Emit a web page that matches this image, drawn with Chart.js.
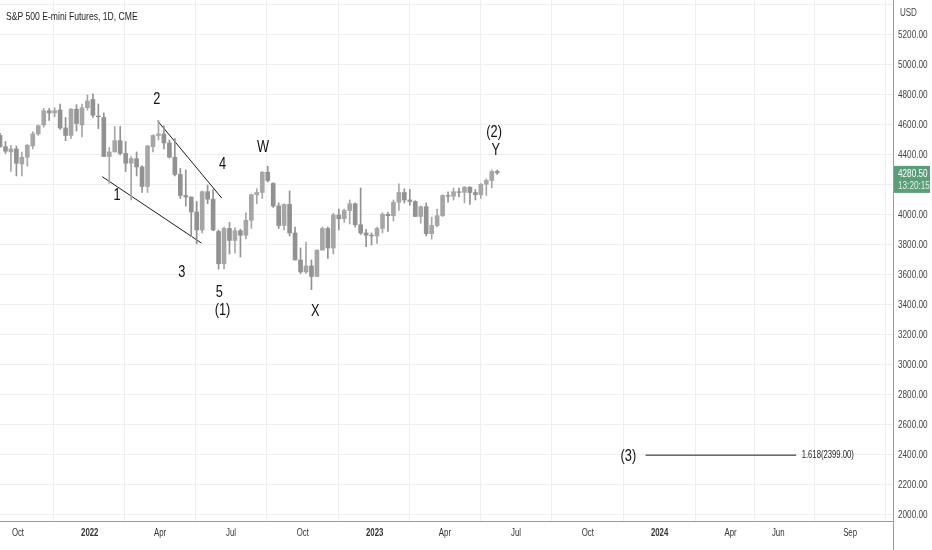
<!DOCTYPE html>
<html>
<head>
<meta charset="utf-8">
<script src="https://cdn.jsdelivr.net/npm/chart.js@4"></script>
<style>
  body { margin: 0; background: #fff; }
  canvas { display: block; }
</style>
</head>
<body>
<canvas id="es_chart" width="932" height="550"></canvas>
<script>
// weekly candles, week starting monday
const weeks = [
  '2021-09-06','2021-09-13','2021-09-20','2021-09-27','2021-10-04','2021-10-11','2021-10-18','2021-10-25',
  '2021-11-01','2021-11-08','2021-11-15','2021-11-22','2021-11-29','2021-12-06','2021-12-13','2021-12-20','2021-12-27',
  '2022-01-03','2022-01-10','2022-01-17','2022-01-24','2022-01-31','2022-02-07','2022-02-14','2022-02-21','2022-02-28',
  '2022-03-07','2022-03-14','2022-03-21','2022-03-28','2022-04-04','2022-04-11','2022-04-18','2022-04-25','2022-05-02',
  '2022-05-09','2022-05-16','2022-05-23','2022-05-30','2022-06-06','2022-06-13','2022-06-20','2022-06-27','2022-07-04',
  '2022-07-11','2022-07-18','2022-07-25','2022-08-01','2022-08-08','2022-08-15','2022-08-22','2022-08-29','2022-09-05',
  '2022-09-12','2022-09-19','2022-09-26','2022-10-03','2022-10-10','2022-10-17','2022-10-24','2022-10-31','2022-11-07',
  '2022-11-14','2022-11-21','2022-11-28','2022-12-05','2022-12-12','2022-12-19','2022-12-26',
  '2023-01-02','2023-01-09','2023-01-16','2023-01-23','2023-01-30','2023-02-06','2023-02-13','2023-02-20','2023-02-27',
  '2023-03-06','2023-03-13','2023-03-20','2023-03-27','2023-04-03','2023-04-10','2023-04-17','2023-04-24','2023-05-01',
  '2023-05-08','2023-05-15','2023-05-22','2023-05-29','2023-06-05'
]
const opens = [
  4530,4455,4420,4440,4340,4385,4460,4540, 4600,4695,4680,4700,4580,4530,4705,4600,4715,
  4770,4660,4650,4390,4420,4495,4410,4345,4375, 4320,4190,4455,4530,4540,4480,4385,4270,4130,
  4120,4020,3900,4155,4105,3890,3675,3910,3830, 3895,3865,3965,4135,4150,4285,4210,4060,3930,
  4070,3880,3700,3620,3660,3590,3765,3910,3780, 4000,3975,4030,4075,3935,3880,3865,
  3860,3910,4005,3995,4085,4150,4100,4090,3990, 4055,3875,3930,3995,4130,4125,4155,4150,4185,
  4150,4135,4205,4230,4290
]
const highs = [
  4545,4490,4465,4460,4420,4470,4555,4600, 4710,4710,4715,4740,4650,4710,4735,4740,4800,
  4808,4740,4680,4450,4590,4590,4490,4390,4420, 4330,4465,4535,4631,4595,4500,4510,4310,4300,
  4120,4090,4160,4200,4170,3900,3920,3950,3915, 3905,4015,4140,4175,4290,4325,4215,4080,4075,
  4160,3920,3780,3820,3700,3770,3920,3920,4010, 4040,4040,4100,4080,4180,3905,3880,
  3920,4015,4020,4100,4208,4175,4170,4095,4060, 4080,3985,4040,4135,4155,4180,4180,4190,4190,
  4170,4210,4240,4300,4300
]
const lows = [
  4450,4410,4290,4260,4260,4325,4440,4530, 4585,4630,4655,4570,4495,4510,4560,4520,4700,
  4650,4575,4390,4212,4420,4400,4290,4101,4260, 4150,4150,4420,4500,4440,4380,4260,4110,4060,
  3855,3807,3880,4075,3895,3639,3640,3740,3745, 3720,3840,3910,4075,4110,4220,4050,3910,3900,
  3860,3700,3610,3610,3502,3590,3770,3710,3740, 3900,3950,3940,3920,3870,3788,3800,
  3810,3880,3890,3960,4030,4080,4065,3990,3945, 3860,3839,3920,3990,4085,4100,4120,4080,4070,
  4100,4110,4130,4180,4270
]
const closes = [
  4455,4425,4440,4345,4385,4465,4540,4595, 4695,4680,4695,4580,4530,4705,4610,4715,4760,
  4665,4655,4390,4420,4495,4410,4345,4375,4320, 4190,4460,4530,4540,4480,4385,4270,4130,4120,
  4020,3900,4155,4105,3900,3675,3910,3830,3895, 3865,3965,4135,4150,4285,4230,4060,3930,4070,
  3880,3700,3620,3660,3590,3765,3910,3780,4000, 3975,4030,4075,3935,3880,3865,3860,
  3910,4005,3995,4085,4150,4100,4090,3990,4055, 3875,3930,3995,4130,4125,4155,4150,4185,4150,
  4135,4205,4230,4290,4280.5
]
const lastPrice = 4280.5
const countdown = '13:20:15'

const tickDates = ['2021-10-01','2022-01-01','2022-04-01','2022-07-01','2022-10-01','2023-01-01',
  '2023-04-01','2023-07-01','2023-10-01','2024-01-01','2024-04-01','2024-06-01','2024-09-01']
const tickLabels = ['Oct','2022','Apr','Jul','Oct','2023','Apr','Jul','Oct','2024','Apr','Jun','Sep']
const priceTicks = [2000,2200,2400,2600,2800,3000,3200,3400,3600,3800,4000,4200,4400,4600,4800,5000,5200,5400]

// elliott wave marks: [date, price]
const wedgeLow = [['2022-01-17', 4255], ['2022-05-24', 3813]]
const wedgeHigh = [['2022-03-29', 4627], ['2022-06-19', 4113]]
const targetLine = [['2023-12-14', 2399], ['2024-06-24', 2399]]
const waveLabels = [
  ['1', '2022-02-05', 4133], ['2', '2022-03-28', 4773], ['3', '2022-04-29', 3620],
  ['4', '2022-06-20', 4340], ['5', '2022-06-16', 3487], ['(1)', '2022-06-20', 3367],
  ['W', '2022-08-11', 4453], ['X', '2022-10-17', 3360], ['(2)', '2023-06-03', 4553],
  ['Y', '2023-06-05', 4433], ['(3)', '2023-11-22', 2393]
]
const targetText = ['1.618(2399.00)', '2024-07-01', 2400]

function day(s) {
  var p = s.split('-').map(Number)
  return (Date.UTC(p[0], p[1] - 1, p[2]) - Date.UTC(2021, 0, 1)) / 864e5
}

const upCol = '#a6a6a6'
const downCol = '#929292'
const candleCols = closes.map((c, i) => c >= opens[i] ? upCol : downCol)

const FONT = "'Liberation Sans', Arial, sans-serif"

// the reference text is squeezed sideways, so draw it scaled on x
function squeezed(ctx, txt, x, y, size, sx, align, color, weight) {
  ctx.save()
  ctx.font = (weight || 'normal') + ' ' + size + 'px ' + FONT
  ctx.fillStyle = color
  ctx.textAlign = align
  ctx.textBaseline = 'middle'
  ctx.translate(x, y)
  ctx.scale(sx, 1)
  ctx.fillText(txt, 0, 0)
  ctx.restore()
}

const overlay = {
  id: 'overlay',
  afterDraw(chart) {
    const ctx = chart.ctx
    const xs = chart.scales.x, ys = chart.scales.y
    const area = chart.chartArea
    ctx.save()
    ctx.strokeStyle = '#9a9a9a'
    ctx.lineWidth = 1
    ctx.beginPath()
    ctx.moveTo(Math.round(area.right) + 0.5, area.bottom)
    ctx.lineTo(Math.round(area.right) + 0.5, chart.height)
    ctx.stroke()
    ctx.restore()

    // axis labels
    priceTicks.forEach(v => {
      if (v >= 5400) return
      squeezed(ctx, v.toFixed(2), area.right + 5, ys.getPixelForValue(v), 10, 0.82, 'left', '#444')
    })
    tickDates.forEach((d, i) => {
      const yr = /^\d/.test(tickLabels[i])
      squeezed(ctx, tickLabels[i], xs.getPixelForValue(day(d)), 533, 10, 0.78, 'center', '#333', yr ? 'bold' : 'normal')
    })
    squeezed(ctx, 'USD', area.right + 7, 13, 10, 0.8, 'left', '#444')

    // wave counts
    waveLabels.forEach(l => {
      squeezed(ctx, l[0], xs.getPixelForValue(day(l[1])), ys.getPixelForValue(l[2]), 17, 0.75, 'center', '#111')
    })
    squeezed(ctx, targetText[0], xs.getPixelForValue(day(targetText[1])), ys.getPixelForValue(targetText[2]), 11, 0.7, 'left', '#222')

    squeezed(ctx, 'S&P 500 E-mini Futures, 1D, CME', 6, 17, 11, 0.78, 'left', '#222')

    // last price tag
    const py = ys.getPixelForValue(lastPrice)
    ctx.fillStyle = '#5b9e7b'
    ctx.fillRect(area.right + 1, py - 7, 36, 27)
    squeezed(ctx, lastPrice.toFixed(2), area.right + 5, py + 1, 10, 0.82, 'left', '#ffffff')
    squeezed(ctx, countdown, area.right + 5, py + 13, 10, 0.82, 'left', '#e2f0e8')
  }
}

function lineSet(pts) {
  return {
    type: 'line',
    data: pts.map(p => ({ x: day(p[0]), y: p[1] })),
    borderColor: '#1a1a1a',
    borderWidth: 1,
    pointRadius: 0,
    fill: false
  }
}

new Chart(document.getElementById('es_chart'), {
  type: 'bar',
  data: {
    datasets: [
      {
        data: weeks.map((w, i) => ({ x: day(w) + 2, y: [lows[i], highs[i]] })),
        backgroundColor: candleCols,
        barThickness: 1,
        grouped: false,
        borderWidth: 0
      },
      {
        data: weeks.map((w, i) => ({ x: day(w) + 2, y: [opens[i], closes[i]] })),
        backgroundColor: candleCols,
        barThickness: 4,
        grouped: false,
        borderWidth: 0
      },
      lineSet(wedgeLow),
      lineSet(wedgeHigh),
      lineSet(targetLine)
    ]
  },
  options: {
    responsive: false,
    animation: false,
    layout: { padding: 0 },
    plugins: { legend: { display: false }, tooltip: { enabled: false } },
    scales: {
      x: {
        type: 'linear',
        min: 250,
        max: 1394,
        offset: false,
        afterBuildTicks: s => { s.ticks = tickDates.map(d => ({ value: day(d) })) },
        afterFit: s => { s.height = 29 },
        grid: { color: '#efefef', tickLength: 0 },
        border: { color: '#9a9a9a' },
        ticks: { display: false }
      },
      y: {
        position: 'right',
        min: 1960,
        max: 5433,
        afterBuildTicks: s => { s.ticks = priceTicks.map(v => ({ value: v })) },
        afterFit: s => { s.width = 39 },
        grid: { color: '#efefef', tickLength: 0 },
        border: { color: '#9a9a9a' },
        ticks: { display: false }
      }
    }
  },
  plugins: [overlay]
})
</script>
</body>
</html>
